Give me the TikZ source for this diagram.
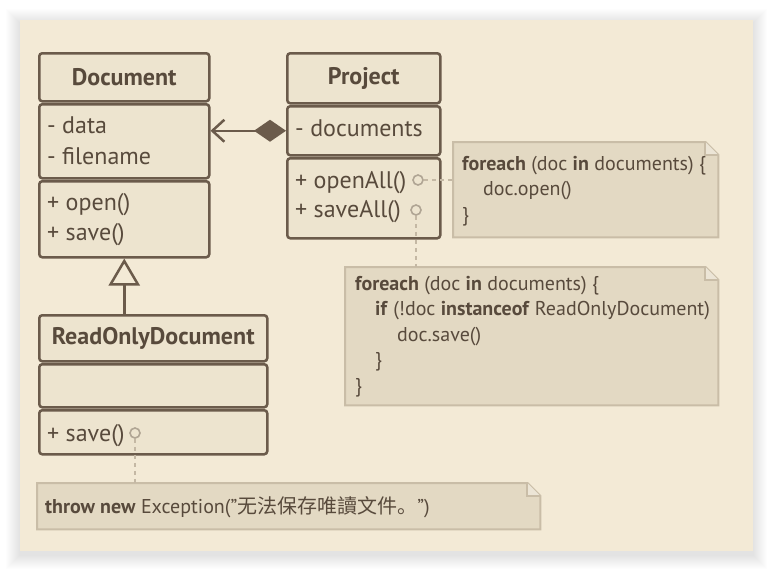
\documentclass[tikz,border=0pt]{standalone}
\usepackage{fontspec}
\setmainfont{PT Sans}
\newfontfamily\cjk{Noto Sans CJK SC}
\usetikzlibrary{arrows.meta}
\definecolor{bg}{RGB}{243,234,214}
\definecolor{boxfill}{RGB}{237,228,207}
\definecolor{ink}{RGB}{107,91,75}
\definecolor{txt}{RGB}{88,74,60}
\definecolor{notefill}{RGB}{227,217,195}
\definecolor{noteline}{RGB}{201,189,167}
\definecolor{foldc}{RGB}{236,229,214}
\definecolor{connc}{RGB}{196,184,164}
\definecolor{portc}{RGB}{176,165,148}
\tikzset{
  comp/.style={draw=ink, fill=boxfill, line width=2.5pt, rounded corners=3pt, inner sep=0pt, anchor=north west},
  titletext/.style={font=\bfseries\fontsize{24}{28}\selectfont, text=txt, inner sep=0pt},
  member/.style={font=\fontsize{24}{28}\selectfont, text=txt, inner sep=0pt, anchor=base west},
  notebox/.style={inner sep=0pt, anchor=north west},
  noteframe/.style={draw=noteline, fill=notefill, line width=2pt, line join=miter},
  notetext/.style={font=\fontsize{20}{25.5}\selectfont, text=txt, inner sep=0pt, align=left},
  port/.style={circle, draw=portc, line width=1.6pt, fill=boxfill, minimum size=10pt, inner sep=0pt},
  conn/.style={draw=connc, line width=2pt, dash pattern=on 4pt off 4pt},
  assoc/.style={draw=ink, line width=2.5pt},
}
\newcommand{\notefold}[1]{%
  \draw[noteframe] (#1.south west) -- (#1.north west) -- ([xshift=-13pt]#1.north east)
     -- ([yshift=-13pt]#1.north east) -- (#1.south east) -- cycle;
  \draw[noteframe, fill=foldc] ([xshift=-13pt]#1.north east) -- ([xshift=-13pt,yshift=-13pt]#1.north east)
     -- ([yshift=-13pt]#1.north east);}
\begin{document}
\begin{tikzpicture}[x=1pt,y=-1pt]
\useasboundingbox (0,0) rectangle (773,571);
\fill[white] (0,0) rectangle (773,571);
\foreach \i in {1,...,14} \fill[black,opacity=0.009] (20-\i,23-\i) rectangle (753+\i,555+\i);
\fill[bg] (20,20) rectangle (753,551);

% Document
\node[comp, minimum width=170pt, minimum height=48pt] (docH) at (38,52) {};
\node[comp, minimum width=170pt, minimum height=74pt] (docA) at (38,103) {};
\node[comp, minimum width=170pt, minimum height=76pt] (docM) at (38,180) {};
\node[titletext] (docT) at (docH.center) {Document};
\node[member] (docA1) at (47,133) {- data};
\node[member] (docA2) at (47,164) {- filename};
\node[member] (docM1) at (47,210) {+ open()};
\node[member] (docM2) at (47,240) {+ save()};

% Project
\node[comp, minimum width=153pt, minimum height=50pt] (prH) at (286,52) {};
\node[comp, minimum width=153pt, minimum height=49pt] (prA) at (286,105) {};
\node[comp, minimum width=153pt, minimum height=80pt] (prM) at (286,157) {};
\node[titletext] (prT) at (prH.center) {Project};
\node[member] (prA1) at (295,136) {- documents};
\node[member] (prM1) at (295,188) {+ openAll()};
\node[member] (prM2) at (295,217) {+ saveAll()};

% ReadOnlyDocument
\node[comp, minimum width=228pt, minimum height=46pt] (roH) at (38,314) {};
\node[comp, minimum width=228pt, minimum height=43pt] (roA) at (38,363) {};
\node[comp, minimum width=228pt, minimum height=44pt] (roM) at (38,409) {};
\node[titletext] (roT) at (roH.center) {ReadOnlyDocument};
\node[member] (roM1) at (47,441) {+ save()};

% notes
\node[notebox, minimum width=265pt, minimum height=95pt] (n1) at (453,142) {};
\node[notebox, minimum width=373pt, minimum height=138pt] (n2) at (345,267) {};
\node[notebox, minimum width=503pt, minimum height=46pt] (n3) at (37,483) {};
\notefold{n1}
\notefold{n2}
\notefold{n3}
\node[notetext, anchor=north west] (n1t) at (462,156) {\textbf{foreach} (doc \textbf{in} documents) \{\\\hspace*{21pt}doc.open()\\\}};
\node[notetext, anchor=north west] (n2t) at (355,276) {\textbf{foreach} (doc \textbf{in} documents) \{\\\hspace*{20pt}\textbf{if} (!doc \textbf{instanceof} ReadOnlyDocument)\\\hspace*{42pt}doc.save()\\\hspace*{20pt}\}\\\}};
\node[notetext, anchor=base west] (n3t) at (45,513) {\textbf{throw new} Exception("{\cjk 无法保存唯讀文件。}")};

% ports and dashed links
\node[port] (pOpen) at (418,180) {};
\node[port] (pSave) at (416,210) {};
\node[port] (pRO) at (135,433) {};
\draw[conn] (pOpen) -- (pOpen -| n1.west);
\draw[conn] (pSave) -- (pSave |- n2.north);
\draw[conn] (pRO) -- (pRO |- n3.north);

% relations
\draw[assoc, {Diamond[length=32pt,width=22pt,fill=ink]}-{Straight Barb[length=12pt,width=22pt]}] (prA.west) -- (docA.east |- prA.west);
\draw[assoc, -{Triangle[open,length=27pt,width=31pt,fill=bg]}] (roH.north -| docM.south) -- (docM.south);
\end{tikzpicture}
\end{document}
